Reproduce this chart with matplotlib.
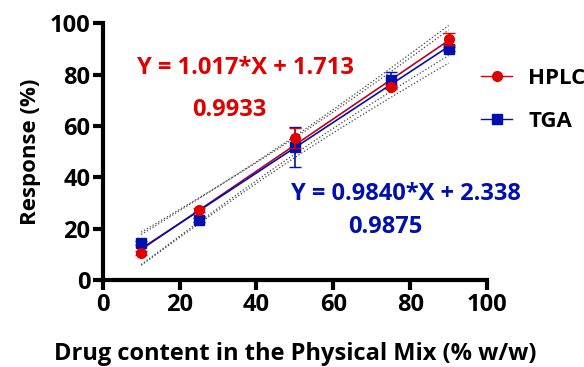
from matplotlib import pyplot as plt
import numpy as np

# data
drug = [10, 25, 50, 75, 90]
hplc = [10.5, 27.2, 55.3, 75.1, 93.8]
hplc_err = [0.8, 0.8, 4.0, 0.8, 2.3]
tga = [14.4, 23.3, 51.8, 77.8, 89.9]
tga_err = [0.8, 0.8, 7.8, 3.0, 0.8]
hplc_fit = [1.017, 1.713]
tga_fit = [0.9840, 2.338]
hplc_r2 = '0.9933'
tga_r2 = '0.9875'

red = '#e00000'
blue = '#0010b0'

plt.rcParams['font.family'] = ['Open Sans', 'DejaVu Sans']
plt.rcParams['font.weight'] = 'bold'

fig = plt.figure(figsize=(5.84, 3.67), dpi=100)
ax = fig.add_axes([0.176, 0.237, 0.658, 0.7])


def band(x, y, fit):
     # 95% confidence band of the regression line
     x = np.array(x, float)
     y = np.array(y, float)
     n = len(x)
     pred = fit[0] * x + fit[1]
     s = np.sqrt(np.sum((y - pred) ** 2) / (n - 2))
     xs = np.linspace(x.min(), x.max(), 50)
     se = s * np.sqrt(1 / n + (xs - x.mean()) ** 2 / np.sum((x - x.mean()) ** 2))
     ys = fit[0] * xs + fit[1]
     return xs, ys, ys - 3.18 * se, ys + 3.18 * se


for y, fit in [(hplc, hplc_fit), (tga, tga_fit)]:
     xs, ys, lo, hi = band(drug, y, fit)
     ax.plot(xs, lo, ':', color='#444444', lw=0.9)
     ax.plot(xs, hi, ':', color='#444444', lw=0.9)

xs, ys, lo, hi = band(drug, hplc, hplc_fit)
ax.plot(xs, ys, color='#c00020', lw=1.2)
xs, ys, lo, hi = band(drug, tga, tga_fit)
ax.plot(xs, ys, color=blue, lw=1.2)

ax.errorbar(drug, hplc, yerr=hplc_err, fmt='o', color=red, ms=7, capsize=4,
            elinewidth=1.2, zorder=5)
ax.errorbar(drug, tga, yerr=tga_err, fmt='s', color=blue, ms=7, capsize=4,
            elinewidth=1.2, zorder=4)

ax.text(37, 82.5, 'Y = %.3f*X + %.3f' % tuple(hplc_fit), color=red, fontsize=17,
        fontweight='bold', ha='center', va='center')
ax.text(33, 66.3, hplc_r2, color=red, fontsize=17, fontweight='bold',
        ha='center', va='center')
ax.text(79, 33.5, 'Y = %.4f*X + %.3f' % tuple(tga_fit), color=blue, fontsize=17,
        fontweight='bold', ha='center', va='center')
ax.text(73.5, 20.7, tga_r2, color=blue, fontsize=17, fontweight='bold',
        ha='center', va='center')

ax.set_xlim(0, 100)
ax.set_ylim(0, 100)
ax.set_xticks(range(0, 101, 20))
ax.set_yticks(range(0, 101, 20))
ax.spines['top'].set_visible(False)
ax.spines['right'].set_visible(False)
ax.spines['left'].set_linewidth(3)
ax.spines['bottom'].set_linewidth(3)
ax.tick_params(width=3, length=7, labelsize=17, pad=2)
for lab in ax.get_xticklabels() + ax.get_yticklabels():
     lab.set_fontweight('bold')

ax.set_xlabel('Drug content in the Physical Mix (% w/w)', fontsize=17,
              fontweight='bold', labelpad=18)
ax.set_ylabel('Response (%)', fontsize=16, fontweight='bold', labelpad=6)

fig.legend([plt.Line2D([], [], color=red, marker='o', ms=7, lw=1),
            plt.Line2D([], [], color=blue, marker='s', ms=7, lw=1)],
           ['HPLC', 'TGA'], loc='upper left', bbox_to_anchor=(0.79, 0.87),
           frameon=False, handlelength=1.4, handletextpad=0.7, labelspacing=1.0,
           prop={'weight': 'bold', 'size': 16})

plt.savefig('out.png')
